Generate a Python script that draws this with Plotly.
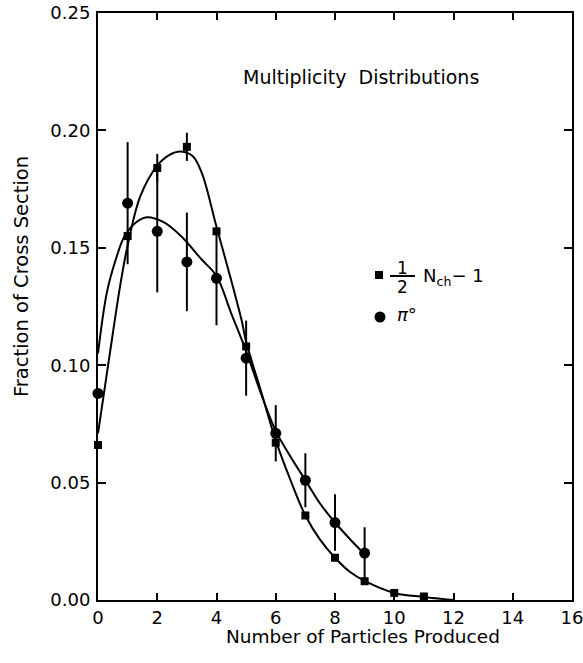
import plotly.graph_objects as go

# ---- data ----
# 1/2 N_ch - 1 (squares)
nch_x = [0, 1, 2, 3, 4, 5, 6, 7, 8, 9, 10, 11]
nch_y = [0.066, 0.155, 0.184, 0.193, 0.157, 0.108, 0.067, 0.036, 0.018, 0.008, 0.003, 0.0015]
nch_err = [0, 0, 0.006, 0.006, 0, 0, 0, 0, 0, 0, 0, 0]

# pi0 (circles)
pi_x = [0, 1, 2, 3, 4, 5, 6, 7, 8, 9]
pi_y = [0.088, 0.169, 0.157, 0.144, 0.137, 0.103, 0.071, 0.051, 0.033, 0.020]
pi_err = [0, 0.026, 0.026, 0.021, 0.020, 0.016, 0.012, 0.0115, 0.012, 0.011]

# smooth fitted curves
nch_fit_x = [0, 0.2, 0.4, 0.75, 1.0, 1.43, 2.0, 2.4, 2.8, 3.2, 3.5, 4.0, 4.5, 4.85, 5.0, 5.5,
             6.0, 6.5, 7.0, 7.5, 8.0, 8.5, 9.0, 10.0, 11.0, 12.0]
nch_fit_y = [0.071, 0.088, 0.105, 0.134, 0.151, 0.172, 0.185, 0.1895, 0.191, 0.189, 0.182,
             0.159, 0.136, 0.119, 0.110, 0.089, 0.068, 0.051, 0.036, 0.0256, 0.018, 0.012,
             0.0081, 0.003, 0.0013, 0.0]

pi_fit_x = [0, 0.3, 0.6, 0.9, 1.3, 1.65, 2.2, 2.8, 3.5, 4.0, 4.5, 5.0, 5.5, 6.0, 6.5, 7.0,
            7.5, 8.0, 8.5, 9.0]
pi_fit_y = [0.105, 0.131, 0.145, 0.155, 0.161, 0.163, 0.161, 0.155, 0.145, 0.138, 0.122,
            0.106, 0.088, 0.072, 0.061, 0.051, 0.041, 0.033, 0.026, 0.0195]

x_ticks = [0, 2, 4, 6, 8, 10, 12, 14, 16]
x_labels = ["0", "2", "4", "6", "8", "10", "12", "14", "16"]
y_ticks = [0.0, 0.05, 0.10, 0.15, 0.20, 0.25]
y_labels = ["0.00", "0.05", "0.10", "0.15", "0.20", "0.25"]

FONT = "DejaVu Sans"
BLACK = "black"

# plot-area geometry in pixels
L, R, T, B = 98, 572, 13, 600
W, H = R - L, B - T

fig = go.Figure()

fig.add_trace(go.Scatter(x=nch_fit_x, y=nch_fit_y, mode="lines",
                         line=dict(color=BLACK, width=2, shape="spline", smoothing=1.0),
                         showlegend=False, hoverinfo="skip", cliponaxis=False))
fig.add_trace(go.Scatter(x=pi_fit_x, y=pi_fit_y, mode="lines",
                         line=dict(color=BLACK, width=2, shape="spline", smoothing=1.0),
                         showlegend=False, hoverinfo="skip", cliponaxis=False))

fig.add_trace(go.Scatter(x=pi_x, y=pi_y, mode="markers",
                         marker=dict(symbol="circle", size=11, color=BLACK),
                         error_y=dict(type="data", array=pi_err, width=0, thickness=2, color=BLACK),
                         showlegend=False, cliponaxis=False))
fig.add_trace(go.Scatter(x=nch_x, y=nch_y, mode="markers",
                         marker=dict(symbol="square", size=8, color=BLACK),
                         error_y=dict(type="data", array=nch_err, width=0, thickness=2, color=BLACK),
                         showlegend=False, cliponaxis=False))

# ---- legend drawn by hand (stacked fraction) ----
def px_to_paper(px, py):
    return (px - L) / W, (B - py) / H

sx, sy = px_to_paper(379, 275)
cx, cy = px_to_paper(380, 317)
shapes = [
    dict(type="rect", xref="paper", yref="paper",
         x0=sx - 4 / W, x1=sx + 4 / W, y0=sy - 4 / H, y1=sy + 4 / H,
         fillcolor=BLACK, line=dict(width=0)),
    dict(type="circle", xref="paper", yref="paper",
         x0=cx - 5.5 / W, x1=cx + 5.5 / W, y0=cy - 5.5 / H, y1=cy + 5.5 / H,
         fillcolor=BLACK, line=dict(width=0)),
]
lx0, ly = px_to_paper(390, 276)
lx1, _ = px_to_paper(415, 276)
shapes.append(dict(type="line", xref="paper", yref="paper", x0=lx0, x1=lx1, y0=ly, y1=ly,
                   line=dict(color=BLACK, width=2)))

annotations = []
def ann(text, px, py, size=16, xanchor="center", yanchor="middle", angle=0):
    x, y = px_to_paper(px, py)
    annotations.append(dict(text=text, x=x, y=y, xref="paper", yref="paper",
                            showarrow=False, xanchor=xanchor, yanchor=yanchor,
                            textangle=angle,
                            font=dict(family=FONT, size=size, color=BLACK)))

ann("1", 402.5, 268, size=17)
ann("2", 402, 287, size=17)
ann("N<sub>ch</sub>\u2212 1", 421, 277, size=18, xanchor="left")
ann("<i>\u03c0</i>\u00b0", 395, 314, size=18, xanchor="left")
ann("Multiplicity  Distributions", 360.5, 77, size=19)
ann("Number of Particles Produced", 362.5, 636, size=18.5)
ann("Fraction of Cross Section", 21, 277, size=19.5, angle=-90)

fig.update_layout(
    width=583, height=663,
    margin=dict(l=L, r=583 - R, t=T, b=663 - B, autoexpand=False),
    plot_bgcolor="white", paper_bgcolor="white",
    font=dict(family=FONT, color=BLACK),
    shapes=shapes, annotations=annotations,
    showlegend=False,
)

fig.update_xaxes(range=[0, 16], tickmode="array", tickvals=x_ticks, ticktext=x_labels,
                 ticks="inside", ticklen=7, tickwidth=1.5, tickcolor=BLACK,
                 showline=True, linewidth=2, linecolor=BLACK, mirror="allticks",
                 showgrid=False, zeroline=False, automargin=False, ticklabelstandoff=0,
                 ticklabeloverflow="allow",
                 tickfont=dict(family=FONT, size=18, color=BLACK))
fig.update_yaxes(range=[0, 0.25], tickmode="array", tickvals=y_ticks, ticktext=y_labels,
                 ticks="inside", ticklen=8, tickwidth=1.5, tickcolor=BLACK,
                 showline=True, linewidth=2, linecolor=BLACK, mirror="allticks",
                 showgrid=False, zeroline=False, automargin=False, ticklabelstandoff=2,
                 ticklabeloverflow="allow",
                 tickfont=dict(family=FONT, size=18, color=BLACK))

fig.write_html("out.html")
